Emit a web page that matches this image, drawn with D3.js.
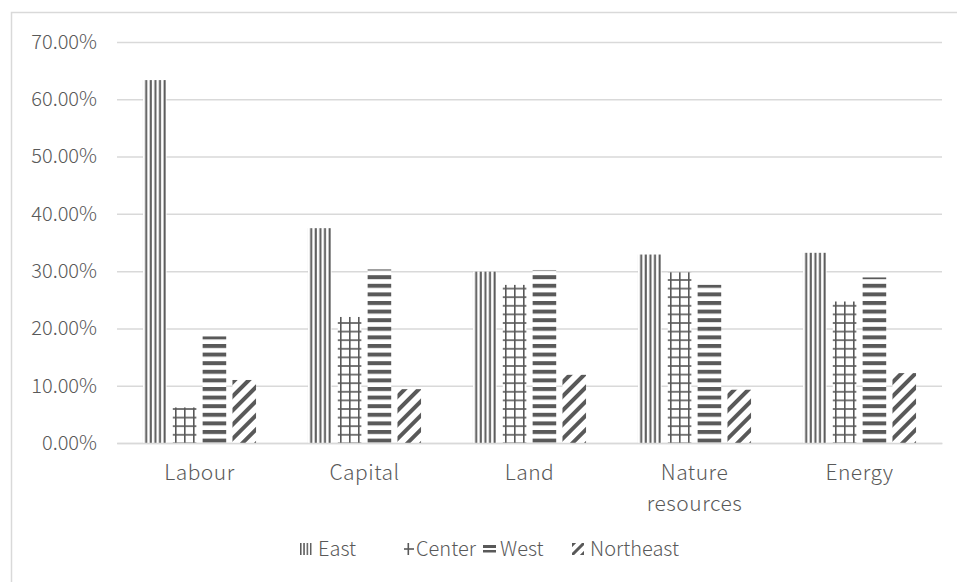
<!DOCTYPE html>
<html>
<head>
<meta charset="utf-8">
<script src="https://cdn.jsdelivr.net/npm/d3@7"></script>
<style>
  body { margin: 0; background: #fff; }
  svg text { font-family: "Noto Sans CJK SC", "Noto Sans", sans-serif; font-weight: 300; fill: #595959; }
</style>
</head>
<body>
<script>
// Chart values (shares, %).
const categories = ["Labour", "Capital", "Land", "Nature resources", "Energy"];
const series = ["East", "Center", "West", "Northeast"];
const east = [63.35, 37.5, 29.9, 32.9, 33.2];
const center = [6.2, 22.0, 27.6, 29.8, 24.7];
const west = [18.6, 30.3, 30.2, 27.6, 28.9];
const northeast = [11.0, 9.4, 11.9, 9.3, 12.2];
const yTicks = [0, 10, 20, 30, 40, 50, 60, 70];

const values = [east, center, west, northeast];

const width = 957;
const height = 582;
const marginTop = 42;
const marginRight = 15;
const marginBottom = 139;
const marginLeft = 117;
const ink = "#595959";

const svg = d3.select("body").append("svg")
  .attr("width", width)
  .attr("height", height)
  .attr("viewBox", [0, 0, width, height]);

// Patterns for the four series (bars).
const defs = svg.append("defs");

function pattern(id, w, h, rects, transform) {
  const p = defs.append("pattern").attr("id", id)
    .attr("patternUnits", "userSpaceOnUse").attr("width", w).attr("height", h);
  if (transform) p.attr("patternTransform", transform);
  p.append("rect").attr("width", w).attr("height", h).attr("fill", "#fff");
  rects.forEach(([rx, ry, rw, rh]) => {
    p.append("rect").attr("x", rx).attr("y", ry).attr("width", rw).attr("height", rh).attr("fill", ink);
  });
}

pattern("p-east", 4.6, 10, [[0.6, 0, 2, 10]]);
pattern("p-center", 9, 8.6, [[4, 0, 1.6, 8.6], [0, 4, 9, 1.6]]);
pattern("p-west", 10, 8.6, [[0, 0, 10, 4]]);
pattern("p-ne", 10, 10, [[0, 0, 4, 10]], "rotate(45)");

// Smaller versions for the legend swatches.
pattern("l-east", 3.3, 12, [[0, 0, 1.5, 12]]);
pattern("l-center", 20, 20, [[3.5, 0, 1.6, 20], [0, 5.2, 20, 1.6]]);
pattern("l-west", 20, 20, [[0, 2, 20, 3], [0, 7, 20, 2.5]]);
pattern("l-ne", 7, 7, [[0, 0, 3, 7]], "rotate(45)");

const fills = ["url(#p-east)", "url(#p-center)", "url(#p-west)", "url(#p-ne)"];
const legendFills = ["url(#l-east)", "url(#l-center)", "url(#l-west)", "url(#l-ne)"];

// Frame of the chart area (only left and top edges are in view).
svg.append("rect")
  .attr("x", 11.5).attr("y", 12.5)
  .attr("width", width + 20).attr("height", height + 20)
  .attr("fill", "none").attr("stroke", "#d9d9d9").attr("stroke-width", 1.5);

// Scales.
const x0 = d3.scaleBand(categories, [marginLeft, width - marginRight]);
const x1 = d3.scaleBand(series, [0, x0.bandwidth()])
  .paddingInner(0.21).paddingOuter(0.87);
const y = d3.scaleLinear([0, 70], [height - marginBottom, marginTop]);

// Y axis with grid lines.
svg.append("g")
  .attr("transform", `translate(${marginLeft},0)`)
  .call(d3.axisLeft(y).tickValues(yTicks).tickSize(0).tickPadding(20)
    .tickFormat((d) => d3.format(".2f")(d) + "%"))
  .call((g) => g.select(".domain").remove())
  .call((g) => g.selectAll(".tick text").attr("font-size", 20).attr("fill", ink)
    .attr("font-family", null))
  .call((g) => g.selectAll(".tick line").clone()
    .attr("x2", width - marginLeft - marginRight)
    .attr("stroke", "#d9d9d9").attr("stroke-width", 1.5));

// Bars.
svg.append("g")
  .selectAll("g")
  .data(categories)
  .join("g")
  .attr("transform", (d) => `translate(${x0(d)},0)`)
  .selectAll("rect")
  .data((d, i) => series.map((s, j) => ({ s, j, v: values[j][i] })))
  .join("rect")
  .attr("x", (d) => x1(d.s))
  .attr("y", (d) => y(d.v))
  .attr("width", x1.bandwidth())
  .attr("height", (d) => y(0) - y(d.v))
  .attr("fill", (d) => fills[d.j]);

// X axis (baseline and category labels).
svg.append("g")
  .attr("transform", `translate(0,${y(0)})`)
  .call(d3.axisBottom(x0).tickSize(0).tickPadding(22))
  .call((g) => g.select(".domain").attr("stroke", "#d9d9d9").attr("stroke-width", 1.5))
  .call((g) => g.selectAll(".tick text").attr("font-size", 21).attr("fill", ink)
    .attr("font-family", null).attr("letter-spacing", 0.5)
    .each(function (d) {
      const t = d3.select(this);
      const words = d.split(" ");
      if (words.length > 1) {
        t.text(null);
        words.forEach((w, k) => {
          t.append("tspan").attr("x", 0).attr("dy", k === 0 ? "0.71em" : "1.48em").text(w);
        });
        t.attr("dy", null);
      }
    }));

// Legend.
const legendX = [300, 404, 483, 572];
const legendW = [13, 10, 13, 12];
const legendTextX = [318, 416, 500, 590];
const legend = svg.append("g").attr("transform", "translate(0,549)");
series.forEach((s, j) => {
  legend.append("g").attr("transform", `translate(${legendX[j]},-6)`)
    .append("rect").attr("width", legendW[j]).attr("height", 12)
    .attr("fill", legendFills[j]);
  legend.append("text").attr("x", legendTextX[j]).attr("dy", "0.35em")
    .attr("font-size", 20).text(s);
});
</script>
</body>
</html>
